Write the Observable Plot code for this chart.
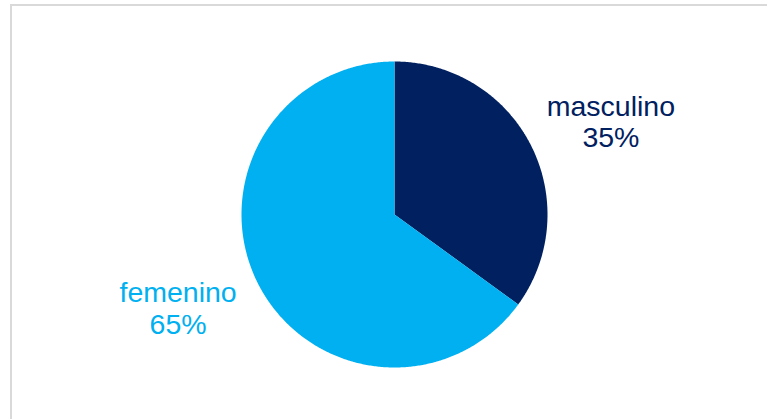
<!DOCTYPE html>
<html><head><meta charset="utf-8">
<script src="https://cdn.jsdelivr.net/npm/d3@7"></script>
<script src="https://cdn.jsdelivr.net/npm/@observablehq/plot@0.6"></script>
<style>
body{margin:0;background:#fff;}
#wrap{position:relative;width:767px;height:419px;overflow:hidden;}
#frame{position:absolute;left:10px;top:4px;width:800px;height:500px;border:2px solid #d9d9d9;box-sizing:border-box;}
#chart{position:absolute;left:0;top:0;}
</style></head><body>
<div id="wrap"><div id="frame"></div><div id="chart"></div></div>
<script>
const categories = ["masculino", "femenino"];
const values = [35, 65];
const percentLabels = ["35%", "65%"];
const colors = ["#002060", "#00B0F0"];

const arcs = d3.pie().sort(null).value(d => d)(values);
const slicePts = [];
arcs.forEach((a, i) => {
  const k = categories[i];
  slicePts.push({x: 0, y: 0, k});
  const n = Math.max(2, Math.ceil((a.endAngle - a.startAngle) / (Math.PI / 360)));
  for (let j = 0; j <= n; j++) {
    const t = a.startAngle + (a.endAngle - a.startAngle) * j / n;
    slicePts.push({x: Math.sin(t), y: Math.cos(t), k});
  }
  slicePts.push({x: 0, y: 0, k});
});

const labelOffset = 3.7 * Math.PI / 180;
const labelR = 1.54;
const labelData = arcs.map((a, i) => {
  const m = (a.startAngle + a.endAngle) / 2 + labelOffset;
  return {x: labelR * Math.sin(m), y: labelR * Math.cos(m), k: categories[i], text: categories[i] + "\n" + percentLabels[i]};
});

const chart = Plot.plot({
  width: 767, height: 419,
  marginLeft: 241, marginRight: 220, marginTop: 61, marginBottom: 52,
  x: {domain: [-1, 1], axis: null},
  y: {domain: [-1, 1], axis: null},
  color: {domain: categories, range: colors},
  style: {background: "transparent", overflow: "visible"},
  marks: [
    Plot.line(slicePts, {x: "x", y: "y", z: "k", fill: "k", stroke: "none", curve: "linear-closed"}),
    Plot.text(labelData, {x: "x", y: "y", text: "text", fill: "k", fontSize: 28.5, lineHeight: 1.12, fontFamily: "'Liberation Sans', Arial, sans-serif", textAnchor: "middle"})
  ]
});
document.getElementById("chart").appendChild(chart);
</script>
</body></html>
